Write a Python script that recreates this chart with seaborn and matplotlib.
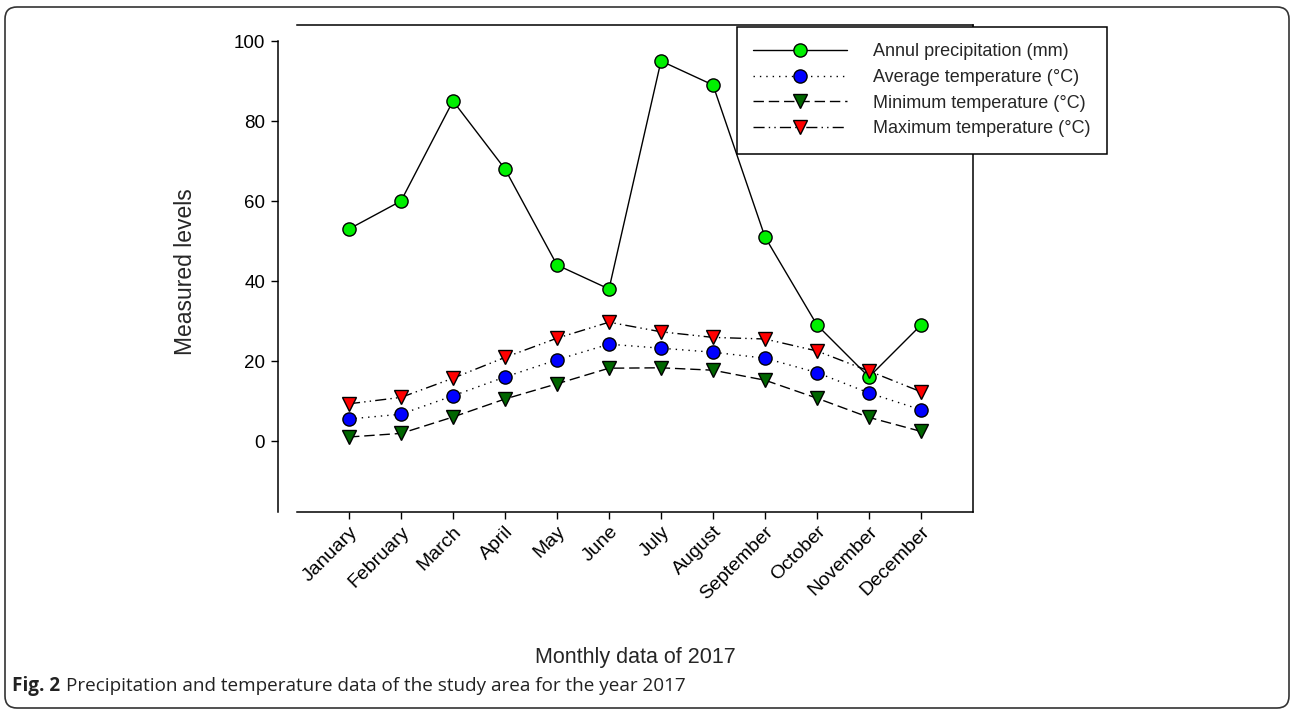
import matplotlib
matplotlib.use("Agg")
import matplotlib.pyplot as plt
from matplotlib.patches import FancyBboxPatch
import numpy as np
import pandas as pd
import seaborn as sns

# Monthly climate records for 2017
months = ["January", "February", "March", "April", "May", "June",
          "July", "August", "September", "October", "November", "December"]
precipitation = [53, 60, 85, 68, 44, 38, 95, 89, 51, 29, 16, 29]
avg_temp = [5.5, 6.7, 11.3, 16.0, 20.3, 24.2, 23.2, 22.2, 20.7, 17.1, 12.0, 7.8]
min_temp = [1.0, 1.9, 6.0, 10.5, 14.3, 18.2, 18.3, 17.7, 15.2, 10.7, 5.9, 2.4]
max_temp = [9.3, 10.9, 15.7, 20.9, 25.7, 29.7, 27.3, 25.9, 25.5, 22.5, 17.5, 12.3]
y_ticks = [0, 20, 40, 60, 80, 100]

labels = ["Annul precipitation (mm)", "Average temperature (\u00b0C)",
          "Minimum temperature (\u00b0C)", "Maximum temperature (\u00b0C)"]

sns.set_theme(style="white")
plt.rcParams["font.family"] = ["Liberation Sans", "DejaVu Sans"]

W, H, DPI = 1292, 713, 100
fig = plt.figure(figsize=(W / DPI, H / DPI), dpi=DPI)
ax = fig.add_axes([297 / W, 1 - 512 / H, (973 - 297) / W, (512 - 25) / H])

# frame: all four sides, left axis pushed outward and stopped at 100
for side in ["top", "right", "bottom", "left"]:
    ax.spines[side].set_visible(True)
    ax.spines[side].set_color("black")
    ax.spines[side].set_linewidth(1.1)
ax.spines["left"].set_position(("outward", 14))
ax.spines["left"].set_bounds(-17.75, 100)

df = pd.DataFrame({
    "month": np.arange(1, 13),
    "precip": precipitation,
    "avg": avg_temp,
    "tmin": min_temp,
    "tmax": max_temp,
})

series = [
    ("precip", "o", "#00f000", "-"),
    ("avg", "o", "#0000ff", (0, (1, 3.6))),
    ("tmin", "v", "#006600", (0, (7.5, 3.5))),
    ("tmax", "v", "#ff0000", (0, (8, 3, 1, 3, 1, 3))),
]

for (col, mk, fc, ls), lab in zip(series, labels):
    sns.lineplot(data=df, x="month", y=col, ax=ax, color="black",
                 linestyle=ls, linewidth=1.0, marker=mk, markersize=9.5,
                 markerfacecolor=fc, markeredgecolor="black",
                 markeredgewidth=1.0, label=lab)

ax.set_xlim(0, 13)
ax.set_ylim(-17.75, 104)
ax.set_xticks(np.arange(1, 13))
ax.set_xticklabels(months, rotation=45, ha="right", rotation_mode="anchor")
ax.set_yticks(y_ticks)
ax.set_yticklabels([str(v) for v in y_ticks])
ax.tick_params(axis="both", direction="out", length=5, width=1.0,
               color="black", bottom=True, left=True, labelcolor="black")
ax.tick_params(axis="x", labelsize=14, pad=3)
ax.tick_params(axis="y", labelsize=13.5, pad=4)

ax.set_xlabel("Monthly data of 2017", fontsize=15.5, va="center")
ax.xaxis.set_label_coords((635 - 297) / (973 - 297), -(658 - 512) / (512 - 25))
ax.set_ylabel("Measured levels", fontsize=16.5, va="center")
ax.yaxis.set_label_coords((185 - 297) / (973 - 297), (512 - 272) / (512 - 25))

leg = ax.legend(loc="upper left", bbox_to_anchor=(737 / W, 1 - 27 / H),
                bbox_transform=fig.transFigure, borderaxespad=0,
                fontsize=13, frameon=True, fancybox=False, shadow=False,
                handlelength=5.2, handletextpad=1.44, labelspacing=0.48,
                borderpad=0.9)
leg.get_frame().set_edgecolor("black")
leg.get_frame().set_linewidth(1.1)
leg.get_frame().set_alpha(1)

# caption: bold figure number followed by the description
cap_font = ["Open Sans", "DejaVu Sans"]
cap_y = 1 - 686 / H
t1 = fig.text(12 / W, cap_y, "Fig. 2", fontsize=13.6, fontweight="bold",
              family=cap_font, va="center", ha="left", color="#222222")
renderer = fig.canvas.get_renderer()
bb = t1.get_window_extent(renderer=renderer)
fig.text((bb.x1 + 6) / W, cap_y,
         "Precipitation and temperature data of the study area for the year 2017",
         fontsize=13.6, family=cap_font, va="center",
         ha="left", color="#222222")

# rounded outer frame
frame = FancyBboxPatch((0.05, 0.05), 12.84, 7.01,
                       boxstyle="round,pad=0,rounding_size=0.12",
                       transform=fig.dpi_scale_trans, fill=False,
                       edgecolor="#333333", linewidth=1.2)
fig.patches.append(frame)

fig.savefig("out.png", dpi=DPI)
